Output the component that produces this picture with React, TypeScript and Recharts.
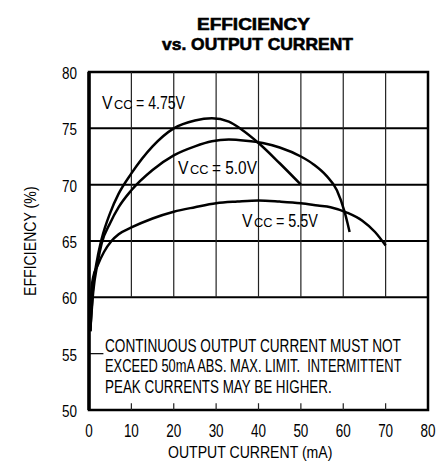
import React from 'react';
import { LineChart, Line, XAxis, YAxis, ReferenceLine, ReferenceArea, ReferenceDot } from 'recharts';

const FONT_NAME = 'Liberation Sans';
const FONT = "'Liberation Sans', Arial, sans-serif";

const currentTicks = [0, 10, 20, 30, 40, 50, 60, 70, 80];
const effTicks = [50, 55, 60, 65, 70, 75, 80];
const innerGridCurrents = [10, 20, 30, 40, 50, 60, 70];
const hGridEff = [60, 65, 70, 75];

const vcc475 = [
  { ma: 0.3, eff: 57 }, { ma: 1, eff: 61 }, { ma: 2, eff: 63.5 }, { ma: 3, eff: 65.2 },
  { ma: 5, eff: 67.5 }, { ma: 7, eff: 69.2 }, { ma: 10, eff: 71.0 }, { ma: 15, eff: 73.4 },
  { ma: 20, eff: 75.0 }, { ma: 25, eff: 75.7 }, { ma: 29, eff: 75.9 }, { ma: 33, eff: 75.6 },
  { ma: 36, eff: 74.9 }, { ma: 40, eff: 73.7 }, { ma: 45, eff: 71.9 }, { ma: 50, eff: 70.0 },
];

const vcc50 = [
  { ma: 0.3, eff: 57 }, { ma: 1, eff: 60.5 }, { ma: 2, eff: 63 }, { ma: 3, eff: 64.8 },
  { ma: 5, eff: 66.6 }, { ma: 7, eff: 68.0 }, { ma: 10, eff: 69.5 }, { ma: 15, eff: 71.3 },
  { ma: 20, eff: 72.6 }, { ma: 25, eff: 73.4 }, { ma: 29, eff: 73.85 }, { ma: 33, eff: 74.0 },
  { ma: 37, eff: 73.9 }, { ma: 41, eff: 73.7 }, { ma: 45, eff: 73.3 }, { ma: 50, eff: 72.5 },
  { ma: 53, eff: 71.8 }, { ma: 56, eff: 70.8 }, { ma: 58.5, eff: 69.5 }, { ma: 60.3, eff: 67.6 },
  { ma: 61, eff: 66.6 }, { ma: 61.5, eff: 65.8 },
];

const vcc55 = [
  { ma: 0.3, eff: 57 }, { ma: 0.6, eff: 60.8 }, { ma: 1, eff: 61.8 }, { ma: 2, eff: 62.8 },
  { ma: 3.5, eff: 64 }, { ma: 5.3, eff: 65 }, { ma: 7, eff: 65.6 }, { ma: 10, eff: 66.2 },
  { ma: 15, eff: 67.0 }, { ma: 20, eff: 67.6 }, { ma: 25, eff: 68.0 }, { ma: 30, eff: 68.35 },
  { ma: 35, eff: 68.5 }, { ma: 40, eff: 68.6 }, { ma: 45, eff: 68.5 }, { ma: 50, eff: 68.35 },
  { ma: 54, eff: 68.15 }, { ma: 57, eff: 68.0 }, { ma: 61, eff: 67.5 }, { ma: 64.5, eff: 66.8 },
  { ma: 67.5, eff: 65.8 }, { ma: 70, eff: 64.6 },
];

const seriesLabels = [
  { ma: 3.07, eff: 76.76, volts: '= 4.75V', width: 83 },
  { ma: 21.0, eff: 70.95, volts: '= 5.0V', width: 79 },
  { ma: 36.1, eff: 66.24, volts: '= 5.5V', width: 76 },
];

const noteAnchor = { ma: 3.78, eff: 55.15 };
const noteLines = [
  { text: 'CONTINUOUS OUTPUT CURRENT MUST NOT', width: 297 },
  { text: 'EXCEED 50mA ABS. MAX. LIMIT.  INTERMITTENT', width: 298 },
  { text: 'PEAK CURRENTS MAY BE HIGHER.', width: 227 },
];

const titleLines = [
  { text: 'EFFICIENCY', cx: 253.5, width: 113 },
  { text: 'vs. OUTPUT CURRENT', cx: 257.5, width: 191 },
];

let ctx: CanvasRenderingContext2D | null = null;
function measure(text: string, size: number, weight: string = 'normal'): number {
  if (!ctx && typeof document !== 'undefined') ctx = document.createElement('canvas').getContext('2d');
  if (!ctx) return text.length * size * 0.55;
  ctx.font = `${weight} ${size}px "${FONT_NAME}"`;
  return ctx.measureText(text).width || text.length * size * 0.55;
}

type FitProps = { x: number; y: number; text: string; width: number; size: number; weight?: string; anchor?: 'start' | 'middle' | 'end'; extra?: any };
const FitText = ({ x, y, text, width, size, weight = 'normal', anchor = 'start', extra }: FitProps) => {
  const natural = measure(text, size, weight);
  const sx = width / natural;
  const left = anchor === 'middle' ? x - width / 2 : anchor === 'end' ? x - width : x;
  return (
    <text transform={`translate(${left},${y}) scale(${sx},1)`} x={0} y={0} fontFamily={FONT} fontSize={size}
      fontWeight={weight} fill="#000" style={{ whiteSpace: 'pre' }} {...(extra || {})}>{text}</text>
  );
};

const VccLabel = (volts: string, width: number) => (props: any) => {
  const vb = props.viewBox || {};
  const x = vb.x ?? props.x;
  const y = vb.y ?? props.y;
  return (
    <g>
      <FitText x={x} y={y} text="V" width={10.5} size={18} />
      <FitText x={x + 12} y={y} text="CC" width={18.5} size={12.5} />
      <FitText x={x + 34} y={y} text={volts} width={width - 34} size={18} />
    </g>
  );
};

const NoteLabel = (props: any) => {
  const vb = props.viewBox || {};
  const x = vb.x ?? props.x;
  const y = vb.y ?? props.y;
  return (
    <g>
      {noteLines.map((l, i) => (
        <FitText key={i} x={x} y={y + i * 20.3} text={l.text} width={l.width} size={19} />
      ))}
    </g>
  );
};

const YLabel = (props: any) => {
  const vb = props.viewBox;
  const cx = vb.x + 30;
  const cy = vb.y + vb.height / 2;
  return (
    <g transform={`rotate(-90 ${cx} ${cy})`}>
      <FitText x={cx} y={cy + 6} text="EFFICIENCY (%)" width={110} size={16} anchor="middle" />
    </g>
  );
};

const XLabel = (props: any) => {
  const vb = props.viewBox;
  const cx = vb.x + vb.width / 2 - 8;
  const cy = vb.y + 48;
  return <FitText x={cx} y={cy} text="OUTPUT CURRENT (mA)" width={165} size={17} anchor="middle" />;
};

const XTick = (props: any) => {
  const s = String(props.payload.value);
  return <FitText x={props.x} y={props.y + 27} text={s} width={s.length * 7.5} size={18} anchor="middle" />;
};

const YTick = (props: any) => {
  const s = String(props.payload.value);
  return <FitText x={props.x} y={props.y + 7} text={s} width={s.length * 7.5} size={16.5} anchor="end" />;
};

export default function App() {
  return (
    <div style={{ position: 'absolute', left: 0, top: 0, width: 445, height: 466, background: '#fff' }}>
      <LineChart width={445} height={466} margin={{ top: 72, right: 17, bottom: 0, left: 0 }}>
        <XAxis
          type="number"
          dataKey="ma"
          domain={[0, 80]}
          ticks={currentTicks}
          allowDataOverflow
          height={56}
          axisLine={false}
          tickLine={false}
          tickSize={0}
          tickMargin={0}
          tick={XTick}
          label={{ content: XLabel }}
        />
        <YAxis
          type="number"
          domain={[50, 80]}
          ticks={effTicks}
          allowDataOverflow
          width={89}
          axisLine={false}
          tickLine={false}
          tickSize={0}
          tickMargin={12}
          tick={YTick}
          label={{ content: YLabel }}
        />
        {hGridEff.map((v) => (
          <ReferenceLine key={'h' + v} y={v} stroke="#000" strokeWidth={2} />
        ))}
        {innerGridCurrents.map((c) => (
          <ReferenceLine key={'v' + c} segment={[{ x: c, y: 60 }, { x: c, y: 80 }]} stroke="#222" strokeWidth={1.2} />
        ))}
        {innerGridCurrents.map((c) => (
          <ReferenceLine key={'t' + c} segment={[{ x: c, y: 50 }, { x: c, y: 50.6 }]} stroke="#222" strokeWidth={1.2} />
        ))}
        <ReferenceLine segment={[{ x: 0, y: 55 }, { x: 3.4, y: 55 }]} stroke="#000" strokeWidth={1.2} />
        <ReferenceArea x1={0} x2={80} y1={50} y2={80} fill="none" fillOpacity={0} stroke="#000" strokeWidth={2.5} />
        <ReferenceLine x={0} stroke="#000" strokeWidth={3.5} />
        <Line data={vcc475} dataKey="eff" type="monotone" dot={false} stroke="#000" strokeWidth={2.5} isAnimationActive={false} />
        <Line data={vcc50} dataKey="eff" type="monotone" dot={false} stroke="#000" strokeWidth={2.5} isAnimationActive={false} />
        <Line data={vcc55} dataKey="eff" type="monotone" dot={false} stroke="#000" strokeWidth={2.5} isAnimationActive={false} />
        {seriesLabels.map((s) => (
          <ReferenceDot key={s.volts} x={s.ma} y={s.eff} r={0} fill="none" stroke="none" label={{ content: VccLabel(s.volts, s.width) }} />
        ))}
        <ReferenceDot x={noteAnchor.ma} y={noteAnchor.eff} r={0} fill="none" stroke="none" label={{ content: NoteLabel }} />
      </LineChart>
      <svg width={445} height={60} style={{ position: 'absolute', left: 0, top: 0, pointerEvents: 'none' }}>
        {titleLines.map((t, i) => (
          <FitText key={i} x={t.cx} y={30 + i * 20} text={t.text} width={t.width} size={17} weight="bold" anchor="middle"
            extra={{ stroke: '#000', strokeWidth: 0.6 }} />
        ))}
      </svg>
    </div>
  );
}
